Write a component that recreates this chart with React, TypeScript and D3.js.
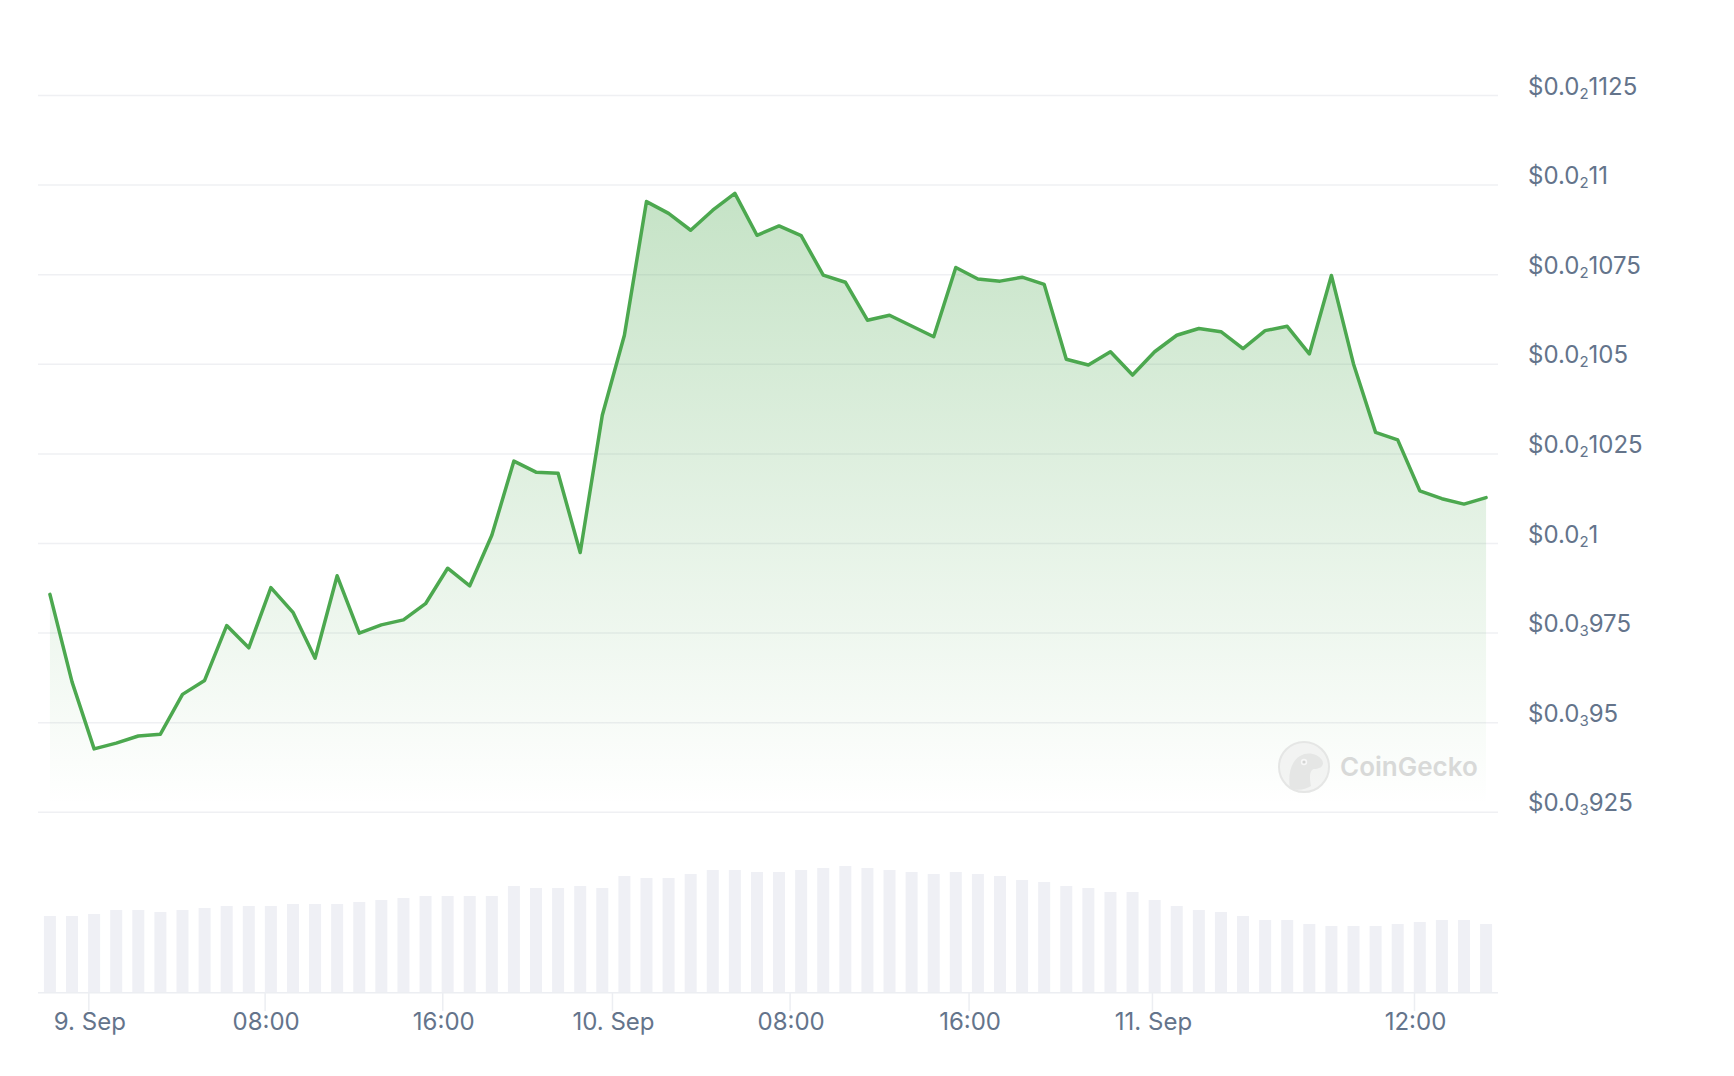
import React from "react";
import * as d3 from "d3";

// ---- data ----
const prices: number[] = [
  0.0009858, 0.0009614, 0.0009427, 0.0009443, 0.0009463, 0.0009468, 0.0009579, 0.0009618,
  0.0009771, 0.0009709, 0.0009877, 0.0009808, 0.000968, 0.000991, 0.000975, 0.0009773,
  0.0009787, 0.0009832, 0.0009931, 0.0009882, 0.0010023, 0.001023, 0.0010199, 0.0010196,
  0.0009975, 0.0010358, 0.0010581, 0.0010954, 0.0010921, 0.0010874, 0.001093, 0.0010977,
  0.001086, 0.0010886, 0.0010859, 0.0010749, 0.0010729, 0.0010623, 0.0010637, 0.0010607,
  0.0010577, 0.001077, 0.0010738, 0.0010732, 0.0010743, 0.0010723, 0.0010514, 0.0010498,
  0.0010535, 0.001047, 0.0010535, 0.0010581, 0.00106, 0.0010591, 0.0010544, 0.0010594,
  0.0010606, 0.0010529, 0.0010748, 0.0010501, 0.001031, 0.0010289, 0.0010147, 0.0010125,
  0.001011, 0.0010128,
];

const volumes: number[] = [
  76, 76, 78, 82, 82, 80, 82, 84, 86, 86, 86, 88, 88, 88, 90, 92, 94, 96, 96, 96, 96, 106,
  104, 104, 106, 104, 116, 114, 114, 118, 122, 122, 120, 120, 122, 124, 126, 124, 122, 120,
  118, 120, 118, 116, 112, 110, 106, 104, 100, 100, 92, 86, 82, 80, 76, 72, 72, 68, 66, 66,
  66, 68, 70, 72, 72, 68,
];

const xTickLabels: string[] = ["9. Sep", "08:00", "16:00", "10. Sep", "08:00", "16:00", "11. Sep", "12:00"];
const xTickPositions: number[] = [1.76, 9.74, 17.78, 25.46, 33.5, 41.6, 49.9, 61.76];

const yTicks: number[] = [0.000925, 0.00095, 0.000975, 0.001, 0.001025, 0.00105, 0.001075, 0.0011, 0.001125];

// ---- helpers ----
function splitLabel(v: number) {
  const s = (Math.round(v * 1e10) / 1e10).toFixed(10).split(".")[1];
  let zeros = 0;
  while (s[zeros] === "0") zeros++;
  const rest = s.slice(zeros).replace(/0+$/, "");
  return { zeros, rest };
}

const W = 1734;
const H = 1076;
const PLOT_L = 38;
const PLOT_R = 1498;
const GREEN = "#4ca84f";
const LABEL = "#64748b";
const FONT = "Inter, 'Noto Sans', sans-serif";

export default function App() {
  const x = d3.scaleLinear().domain([-0.54, prices.length - 1 + 0.54]).range([PLOT_L, PLOT_R]);
  const y = d3.scaleLinear().domain([0.000925, 0.001125]).range([812.3, 95.5]);
  const vy = d3.scaleLinear().domain([0, 140]).range([992, 852]);

  const line = d3
    .line<number>()
    .x((_, i) => x(i))
    .y((d) => y(d));
  const area = d3
    .area<number>()
    .x((_, i) => x(i))
    .y0(y(0.000925))
    .y1((d) => y(d));

  const barW = 12;

  return (
    <svg
      width={W}
      height={H}
      style={{ position: "absolute", left: 0, top: 0, background: "#fff" }}
      fontFamily={FONT}
    >
      <defs>
        <linearGradient id="fillGrad" gradientUnits="userSpaceOnUse" x1="0" y1="180" x2="0" y2="805">
          <stop offset="0" stopColor={GREEN} stopOpacity={0.33} />
          <stop offset="1" stopColor={GREEN} stopOpacity={0} />
        </linearGradient>
      </defs>
      <rect x={0} y={0} width={W} height={H} fill="#fff" />

      {/* grid lines */}
      {yTicks.map((t) => (
        <line key={t} x1={PLOT_L} x2={PLOT_R} y1={y(t)} y2={y(t)} stroke="#eff0f3" strokeWidth={1.5} />
      ))}

      {/* y labels */}
      {yTicks.map((t) => {
        const { zeros, rest } = splitLabel(t);
        return (
          <text key={"l" + t} x={1528} y={y(t) - 1} fontSize={24} fill={LABEL}>
            <tspan>$0.0</tspan>
            <tspan fontSize={15} dy={4}>
              {zeros}
            </tspan>
            <tspan dy={-4}>{rest}</tspan>
          </text>
        );
      })}

      {/* area + line */}
      <path d={area(prices) || ""} fill="url(#fillGrad)" />
      <path d={line(prices) || ""} fill="none" stroke={GREEN} strokeWidth={3.5} strokeLinejoin="round" strokeLinecap="round" />

      {/* watermark */}
      <g opacity={0.9}>
        <circle cx={1304} cy={767} r={25} fill="#f2f3f2" stroke="#e3e4e3" strokeWidth={2} />
        <path
          d="M1290,788 C1288,776 1290,762 1300,756 C1308,751 1318,754 1322,760 C1325,765 1321,769 1314,769 C1310,770 1309,776 1311,786 C1305,790 1296,791 1290,788 Z"
          fill="#e3e4e3"
        />
        <circle cx={1304} cy={762} r={3.2} fill="#f7f7f7" />
        <circle cx={1304} cy={762} r={1.6} fill="#cfd0cf" />
        <text x={1340} y={776} fontSize={26} fontWeight={600} fill="#d5d6d5" fontFamily="Inter, sans-serif">
          CoinGecko
        </text>
      </g>

      {/* volume bars */}
      {volumes.map((v, i) => (
        <rect key={"b" + i} x={x(i) - barW / 2} y={vy(v)} width={barW} height={vy(0) - vy(v)} fill="#eff0f5" />
      ))}

      {/* x axis */}
      <line x1={PLOT_L} x2={PLOT_R} y1={992.75} y2={992.75} stroke="#eceef2" strokeWidth={1.5} />
      {xTickPositions.map((p, i) => (
        <g key={"t" + i}>
          <line x1={x(p)} x2={x(p)} y1={993} y2={1011} stroke="#eceef2" strokeWidth={1.5} />
          <text x={x(p) + 1} y={1030} fontSize={24} fill={LABEL} textAnchor="middle">
            {xTickLabels[i]}
          </text>
        </g>
      ))}
    </svg>
  );
}
